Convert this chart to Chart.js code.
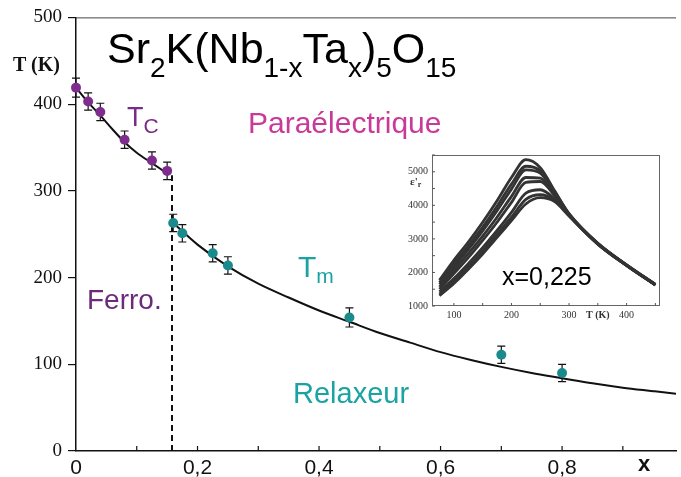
<!DOCTYPE html>
<html><head><meta charset="utf-8">
<script src="https://cdn.jsdelivr.net/npm/chart.js@4.4.0/dist/chart.umd.min.js"></script>
<style>
html,body{margin:0;padding:0;background:#fff;}
#wrap{position:relative;width:681px;height:477px;overflow:hidden;font-family:"Liberation Sans",Arial,sans-serif;background:#fff;}
#main{position:absolute;left:0;top:0;}
#inset{position:absolute;left:398px;top:145px;}
.lbl{position:absolute;white-space:nowrap;line-height:1;}
.sub{position:relative;}
</style></head><body>
<div id="wrap">
<canvas id="main" width="681" height="477"></canvas>
<canvas id="inset" width="272" height="180"></canvas>
<div class="lbl" style="left:107px;top:27px;font-size:43px;color:#000;">Sr<span class="sub" style="font-size:28px;top:14px;">2</span>K(Nb<span class="sub" style="font-size:28px;top:14px;">1-x</span>Ta<span class="sub" style="font-size:28px;top:14px;">x</span>)<span class="sub" style="font-size:28px;top:14px;">5</span>O<span class="sub" style="font-size:28px;top:14px;">15</span></div>
<div class="lbl" style="left:13px;top:54px;font-size:20px;font-weight:bold;font-family:'Liberation Serif',serif;color:#111;">T (K)</div>
<div class="lbl" style="left:127px;top:104px;font-size:27px;color:#7a2a88;">T<span class="sub" style="font-size:21px;top:7px;">C</span></div>
<div class="lbl" style="left:248px;top:108px;font-size:30px;color:#c93a98;">Paraélectrique</div>
<div class="lbl" style="left:298px;top:252px;font-size:30px;color:#1aa3a0;">T<span class="sub" style="font-size:21px;top:6px;">m</span></div>
<div class="lbl" style="left:87px;top:286px;font-size:28px;color:#6b2a7c;">Ferro.</div>
<div class="lbl" style="left:293px;top:379px;font-size:29px;color:#1aa3a0;">Relaxeur</div>
<div class="lbl" style="left:502px;top:264px;font-size:25px;color:#000;">x=0,225</div>
<div class="lbl" style="left:638px;top:453px;font-size:22px;font-weight:bold;color:#111;">x</div>
<div class="lbl" style="left:410px;top:176px;font-size:11px;font-weight:bold;font-family:'Liberation Serif',serif;color:#333;">ε'<span class="sub" style="font-size:8px;top:2px;">r</span></div>
</div>
<script>
// ---- main phase diagram data ----
const tcX   = [0, 0.02, 0.04, 0.08, 0.125, 0.15];
const tcT   = [419, 403, 391, 359, 335, 323];
const tcErr = [11, 10, 10, 10, 10, 10];

const tmX   = [0.16, 0.175, 0.225, 0.25, 0.45, 0.70, 0.80];
const tmT   = [263, 251, 228, 214, 154, 111, 90];
const tmErr = [10, 10, 10, 10, 11, 10, 10];

const fitTcX = [0, 0.02, 0.04, 0.06, 0.08, 0.10, 0.125, 0.15];
const fitTcT = [419, 402, 387, 371, 356, 344, 332, 320];

const fitTmX = [0.16, 0.20, 0.25, 0.30, 0.35, 0.40, 0.45, 0.50, 0.55, 0.60, 0.65, 0.70, 0.75, 0.80, 0.85, 0.90, 0.95, 1.00];
const fitTmT = [263, 238, 213, 193, 177, 162, 149, 136, 125, 114, 105, 97, 90, 84, 78, 73, 69, 65];

const boundaryX = [0.158, 0.158];
const boundaryT = [0, 318];

const xTickLabels = ["0", "", "0,2", "", "0,4", "", "0,6", "", "0,8", ""];
const yTickLabels = ["0", "100", "200", "300", "400", "500"];

// ---- inset (dielectric permittivity, x = 0.225) ----
const insetT = [75, 100, 125, 150, 175, 200, 225, 250, 275, 300, 350, 400, 450];
const eps1 = [1550, 2150, 2700, 3300, 3950, 4650, 5190, 4950, 4250, 3560, 2660, 2010, 1420];
const eps2 = [1480, 2050, 2580, 3150, 3780, 4450, 4990, 4850, 4220, 3550, 2660, 2010, 1420];
const eps3 = [1420, 1950, 2480, 3040, 3650, 4300, 4880, 4780, 4200, 3540, 2655, 2005, 1415];
const eps4 = [1350, 1850, 2350, 2880, 3450, 4080, 4650, 4630, 4150, 3530, 2650, 2000, 1415];
const eps5 = [1280, 1750, 2230, 2750, 3300, 3900, 4500, 4530, 4100, 3520, 2650, 2000, 1410];
const eps6 = [1200, 1600, 2050, 2530, 3050, 3600, 4180, 4280, 4000, 3510, 2645, 1995, 1410];
const eps7 = [1130, 1520, 1950, 2420, 2930, 3450, 3990, 4130, 3960, 3500, 2640, 1995, 1405];
const eps8 = [1080, 1450, 1880, 2340, 2840, 3350, 3850, 4040, 3920, 3490, 2640, 1990, 1400];
const insetXLabels = ["100", "", "200", "", "300", "T (K)", "400", ""];
const insetYLabels = ["1000", "", "2000", "", "3000", "", "4000", "", "5000"];

const pts = (xs, ys) => xs.map((x, i) => ({x: x, y: ys[i]}));

Chart.defaults.font.family = "'Liberation Sans', Arial, sans-serif";

const errorBars = {
  id: 'errorBars',
  beforeDatasetsDraw(chart) {
    const ctx = chart.ctx, xs = chart.scales.x, ys = chart.scales.y;
    ctx.save();
    ctx.strokeStyle = '#111';
    ctx.lineWidth = 1.2;
    chart.data.datasets.forEach(ds => {
      if (!ds.errors) return;
      ds.data.forEach((p, i) => {
        const e = ds.errors[i];
        const px = xs.getPixelForValue(p.x);
        const t = ys.getPixelForValue(p.y + e), b = ys.getPixelForValue(p.y - e);
        ctx.beginPath();
        ctx.moveTo(px, t); ctx.lineTo(px, b);
        ctx.moveTo(px - 4, t); ctx.lineTo(px + 4, t);
        ctx.moveTo(px - 4, b); ctx.lineTo(px + 4, b);
        ctx.stroke();
      });
    });
    ctx.restore();
  }
};

const mainDecor = {
  id: 'mainDecor',
  afterDraw(chart) {
    const ctx = chart.ctx, a = chart.chartArea, xs = chart.scales.x;
    ctx.save();
    ctx.strokeStyle = '#444';
    ctx.lineWidth = 1;
    ctx.beginPath();
    ctx.moveTo(a.left, a.top + 0.5); ctx.lineTo(a.right, a.top + 0.5);
    ctx.stroke();
    ctx.strokeStyle = '#111';
    ctx.lineWidth = 1.2;
    xs.ticks.forEach(t => {
      if (t.value <= 0) return;
      const p = xs.getPixelForValue(t.value);
      ctx.beginPath(); ctx.moveTo(p, a.bottom); ctx.lineTo(p, a.bottom - 5); ctx.stroke();
    });
    ctx.restore();
  }
};

new Chart(document.getElementById('main'), {
  type: 'scatter',
  data: {
    datasets: [
      {label: 'Tc', data: pts(tcX, tcT), errors: tcErr, showLine: false, pointRadius: 5, pointBackgroundColor: '#7e2d8e', pointBorderColor: '#7e2d8e', pointBorderWidth: 0, order: 0, clip: false},
      {label: 'Tm', data: pts(tmX, tmT), errors: tmErr, showLine: false, pointRadius: 5, pointBackgroundColor: '#1b8a8c', pointBorderColor: '#1b8a8c', pointBorderWidth: 0, order: 0, clip: false},
      {label: 'fitTc', data: pts(fitTcX, fitTcT), showLine: true, borderColor: '#111', borderWidth: 2, pointRadius: 0, cubicInterpolationMode: 'monotone', order: 2},
      {label: 'fitTm', data: pts(fitTmX, fitTmT), showLine: true, borderColor: '#111', borderWidth: 2, pointRadius: 0, cubicInterpolationMode: 'monotone', order: 2},
      {label: 'boundary', data: pts(boundaryX, boundaryT), showLine: true, borderColor: '#111', borderWidth: 2, borderDash: [6, 4], pointRadius: 0, order: 3}
    ]
  },
  options: {
    responsive: false, animation: false, events: [],
    layout: {padding: {top: 16, right: 0, left: 0, bottom: 0}},
    plugins: {legend: {display: false}, tooltip: {enabled: false}},
    scales: {
      x: {
        type: 'linear', min: 0, max: 0.9875,
        afterFit(s) { s.height = 26; },
        border: {display: true, color: '#111', width: 1.5},
        grid: {drawOnChartArea: false, drawTicks: false},
        ticks: {
          stepSize: 0.1, includeBounds: false, autoSkip: false, maxRotation: 0,
          padding: 5, color: '#111', font: {size: 21},
          callback: v => xTickLabels[Math.round(v * 10)] ?? ''
        }
      },
      y: {
        type: 'linear', min: 0, max: 500,
        afterFit(s) { s.width = 76; },
        border: {display: true, color: '#111', width: 1.5},
        grid: {drawOnChartArea: false, drawTicks: true, tickLength: 8, color: '#111', lineWidth: 1.2},
        ticks: {
          stepSize: 100, padding: 6, color: '#111',
          font: {size: 19, family: "'Liberation Serif', 'Times New Roman', serif"},
          callback: v => yTickLabels[Math.round(v / 100)] ?? ''
        }
      }
    }
  },
  plugins: [errorBars, mainDecor]
});

const insetDecor = {
  id: 'insetDecor',
  beforeDraw(chart) {
    const ctx = chart.ctx, a = chart.chartArea;
    ctx.save(); ctx.fillStyle = '#fff';
    ctx.fillRect(a.left, a.top, a.right - a.left, a.bottom - a.top);
    ctx.restore();
  },
  afterDraw(chart) {
    const ctx = chart.ctx, a = chart.chartArea, xs = chart.scales.x, ys = chart.scales.y;
    ctx.save();
    ctx.strokeStyle = '#666'; ctx.lineWidth = 1;
    ctx.strokeRect(a.left + 0.5, a.top + 0.5, a.right - a.left - 1, a.bottom - a.top - 1);
    ctx.strokeStyle = '#555';
    xs.ticks.forEach(t => {
      const p = xs.getPixelForValue(t.value);
      ctx.beginPath(); ctx.moveTo(p, a.bottom); ctx.lineTo(p, a.bottom - 3); ctx.stroke();
    });
    ys.ticks.forEach(t => {
      const p = ys.getPixelForValue(t.value);
      ctx.beginPath(); ctx.moveTo(a.left, p); ctx.lineTo(a.left + 3, p); ctx.stroke();
    });
    ctx.restore();
  }
};

const insetSeries = [eps1, eps2, eps3, eps4, eps5, eps6, eps7, eps8];
new Chart(document.getElementById('inset'), {
  type: 'scatter',
  data: {
    datasets: insetSeries.map((s, i) => ({
      label: 'f' + (i + 1), data: pts(insetT, s), showLine: true,
      borderColor: '#333', borderWidth: 2.8, pointRadius: 0,
      cubicInterpolationMode: 'monotone'
    }))
  },
  options: {
    responsive: false, animation: false, events: [],
    layout: {padding: {top: 6, right: 10, left: 0, bottom: 0}},
    plugins: {legend: {display: false}, tooltip: {enabled: false}},
    scales: {
      x: {
        type: 'linear', min: 62, max: 458,
        afterFit(s) { s.height = 19; },
        border: {display: false},
        grid: {display: false, drawTicks: false},
        ticks: {
          stepSize: 50, includeBounds: false, autoSkip: false, maxRotation: 0, padding: 3, color: '#333',
          font: ctx => ({size: 10, family: "'Liberation Serif', serif", weight: (ctx.tick && ctx.tick.value === 350) ? 'bold' : 'normal'}),
          callback: v => insetXLabels[Math.round((v - 100) / 50)] ?? ''
        }
      },
      y: {
        type: 'linear', min: 770, max: 5330,
        afterFit(s) { s.width = 34; },
        border: {display: false},
        grid: {display: false, drawTicks: false},
        ticks: {
          stepSize: 500, includeBounds: false, autoSkip: false, padding: 4, color: '#333',
          font: {size: 10, family: "'Liberation Serif', serif"},
          callback: v => insetYLabels[Math.round((v - 1000) / 500)] ?? ''
        }
      }
    }
  },
  plugins: [insetDecor]
});
</script>
</body></html>
